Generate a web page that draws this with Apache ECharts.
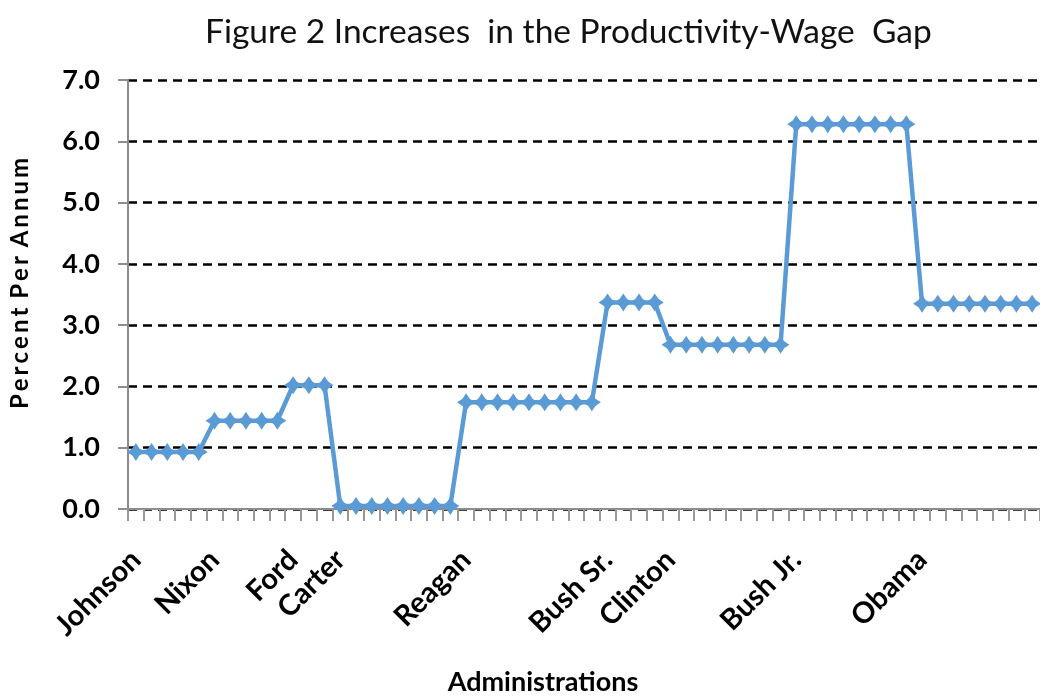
<!DOCTYPE html>
<html>
<head>
<meta charset="utf-8">
<script src="https://cdn.jsdelivr.net/npm/echarts@6/dist/echarts.min.js"></script>
<style>
html,body{margin:0;padding:0;background:#fff;}
#chart{width:1040px;height:698px;}
</style>
</head>
<body>
<div id="chart"></div>
<script>
// Category labels (administration shown at the first period of its term)
var tickLabels = [
  'Johnson','','','','',
  'Nixon','','','','',
  'Ford','','',
  'Carter','','','','','','','',
  'Reagan','','','','','','','','',
  'Bush Sr.','','','',
  'Clinton','','','','','','','',
  'Bush Jr.','','','','','','','',
  'Obama','','','','','','',''
];
// Percent per annum increase in productivity-wage gap
var gapValues = [
  0.93,0.93,0.93,0.93,0.93,
  1.44,1.44,1.44,1.44,1.44,
  2.02,2.02,2.02,
  0.05,0.05,0.05,0.05,0.05,0.05,0.05,0.05,
  1.74,1.74,1.74,1.74,1.74,1.74,1.74,1.74,1.74,
  3.37,3.37,3.37,3.37,
  2.68,2.68,2.68,2.68,2.68,2.68,2.68,2.68,
  6.28,6.28,6.28,6.28,6.28,6.28,6.28,6.28,
  3.35,3.35,3.35,3.35,3.35,3.35,3.35,3.35
];
var yTicks = [0,1,2,3,4,5,6,7];

var chart = echarts.init(document.getElementById('chart'));
var FONT = 'Lato';
chart.setOption({
  animation: false,
  backgroundColor: '#fff',
  title: {
    text: 'Figure 2 Increases  in the Productivity-Wage  Gap',
    left: 200, top: 10,
    textStyle: { fontFamily: FONT, fontSize: 33.5, fontWeight: 'normal', color: '#111' }
  },
  grid: { left: 128, right: 0, top: 80, bottom: 189, containLabel: false, outerBoundsMode: 'none' },
  xAxis: {
    type: 'category',
    data: tickLabels,
    boundaryGap: true,
    name: 'Administrations',
    nameLocation: 'middle',
    nameGap: 160,
    nameTextStyle: { fontFamily: FONT, fontSize: 27, fontWeight: 'bold', color: '#000', padding: [0, 82, 0, 0] },
    axisLine: { lineStyle: { color: '#8c8c8c', width: 2 } },
    axisTick: { show: true, interval: 0, length: 12, alignWithLabel: false, lineStyle: { color: '#999', width: 2 } },
    axisLabel: {
      interval: 0, rotate: 45, margin: 46,
      fontFamily: FONT, fontSize: 29, fontWeight: 'bold', color: '#000'
    },
    splitLine: { show: false }
  },
  yAxis: {
    type: 'value',
    min: 0, max: 7, interval: 1,
    name: 'P\u2009e\u2009r\u2009c\u2009e\u2009n\u2009t\u2009 P\u2009e\u2009r\u2009 A\u2009n\u2009n\u2009u\u2009m',
    nameLocation: 'middle',
    nameGap: 96,
    nameTextStyle: { fontFamily: FONT, fontSize: 24, fontWeight: 'bold', color: '#000', padding: [0, 0, 0, 22] },
    axisLine: { show: true, lineStyle: { color: '#8c8c8c', width: 2 } },
    axisTick: { show: true, length: 10, lineStyle: { color: '#8c8c8c', width: 2 } },
    axisLabel: {
      margin: 28, fontFamily: FONT, fontSize: 27, fontWeight: 'bold', color: '#000',
      formatter: function (v) { return yTicks.indexOf(v) >= 0 ? v.toFixed(1) : ''; }
    },
    splitLine: { show: true, lineStyle: { color: '#000', width: 2.5, type: [9, 6] } }
  },
  series: [{
    type: 'line',
    data: gapValues,
    symbol: 'path://M0,-10 L4,-4 L10,0 L4,4 L0,10 L-4,4 L-10,0 L-4,-4 Z',
    symbolSize: 18,
    showSymbol: true,
    lineStyle: { color: '#5b9bd5', width: 4.5 },
    itemStyle: { color: '#5b9bd5' },
    z: 3
  }]
});
</script>
</body>
</html>
